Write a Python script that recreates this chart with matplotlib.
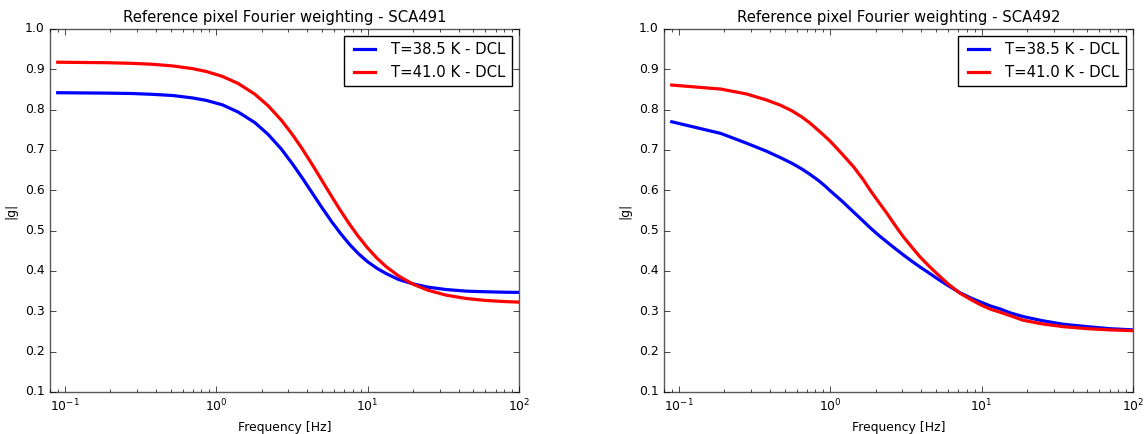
import matplotlib as mpl
mpl.use('Agg')
import matplotlib.pyplot as plt
import numpy as np

plt.style.use('classic')
plt.rcParams['font.size'] = 8.9
plt.rcParams['font.family'] = ['DejaVu Sans']

# frequencies [Hz] and |g|
freq_491 = [0.09, 0.19, 0.28, 0.38, 0.52, 0.7, 0.86, 1.1, 1.4, 1.8, 2.2, 2.7, 3.2, 3.7,
            4.3, 5.0, 5.8, 6.6, 7.6, 8.7, 10, 11.5, 13.2, 16, 20, 25, 33, 45, 60, 80, 100]
g_491_385 = [0.842, 0.841, 0.840, 0.838, 0.835, 0.829, 0.823, 0.812, 0.794, 0.768, 0.739,
             0.702, 0.665, 0.631, 0.594, 0.557, 0.522, 0.494, 0.466, 0.443, 0.423, 0.407,
             0.394, 0.379, 0.368, 0.360, 0.354, 0.350, 0.3485, 0.3474, 0.3469]
g_491_410 = [0.9176, 0.9164, 0.9148, 0.9125, 0.9083, 0.9017, 0.8947, 0.8825, 0.8648, 0.8385,
             0.8101, 0.7737, 0.7375, 0.7031, 0.6646, 0.6243, 0.5845, 0.5509, 0.5160, 0.4854,
             0.4572, 0.4324, 0.4114, 0.3878, 0.3671, 0.3524, 0.3401, 0.3317, 0.3270, 0.3242,
             0.3228]

freq_492 = [0.09, 0.19, 0.28, 0.38, 0.47, 0.56, 0.65, 0.74, 0.84, 0.93, 1.0, 1.2, 1.43,
            1.65, 1.84, 2.1, 2.37, 2.7, 3.04, 3.5, 3.92, 4.5, 5.05, 6.0, 7.2, 8.5, 10, 11.5,
            13.2, 15.5, 18.8, 25, 34.5, 50, 70, 100]
g_492_385 = [0.770, 0.741, 0.717, 0.697, 0.681, 0.667, 0.653, 0.639, 0.624, 0.610, 0.599,
             0.573, 0.546, 0.524, 0.507, 0.488, 0.472, 0.455, 0.440, 0.423, 0.410, 0.395,
             0.382, 0.364, 0.346, 0.333, 0.322, 0.313, 0.306, 0.296, 0.287, 0.277, 0.268,
             0.262, 0.257, 0.254]
g_492_410 = [0.861, 0.851, 0.839, 0.824, 0.811, 0.797, 0.782, 0.766, 0.748, 0.733, 0.722,
             0.690, 0.658, 0.627, 0.600, 0.570, 0.543, 0.512, 0.485, 0.457, 0.435, 0.412,
             0.394, 0.368, 0.345, 0.329, 0.315, 0.305, 0.298, 0.289, 0.278, 0.269, 0.262,
             0.257, 0.254, 0.252]

panels = [('SCA491', freq_491, g_491_385, g_491_410),
          ('SCA492', freq_492, g_492_385, g_492_410)]

fig = plt.figure(figsize=(11.46, 4.34), dpi=100)
fig.patch.set_facecolor('white')
lefts = [0.0436, 0.5794]

for left, (sca, f, g1, g2) in zip(lefts, panels):
    ax = fig.add_axes([left, 0.0968, 0.4093, 0.8364])
    ax.plot(f, g1, color='b', lw=2.3, label='T=38.5 K - DCL')
    ax.plot(f, g2, color='r', lw=2.3, label='T=41.0 K - DCL')
    ax.set_xscale('log')
    ax.set_xlim(0.08, 100)
    ax.set_ylim(0.1, 1.0)
    ax.set_yticks(np.arange(0.1, 1.01, 0.1))
    ax.set_xlabel('Frequency [Hz]')
    ax.set_ylabel('|g|')
    ax.set_title('Reference pixel Fourier weighting - ' + sca)
    for s in ax.spines.values():
        s.set_color('0.35')
    ax.legend(loc='upper right', fontsize='large')

plt.savefig('out.png', dpi=100, facecolor='white')
